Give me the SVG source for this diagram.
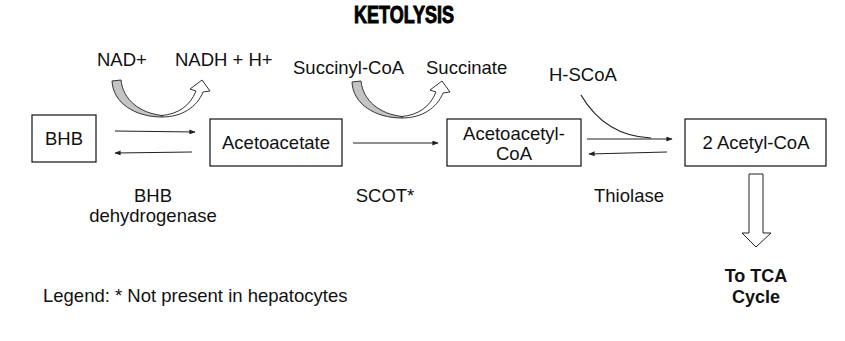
<svg xmlns="http://www.w3.org/2000/svg" width="845" height="341" viewBox="0 0 845 341">
<style>
  .t { font-family: "Liberation Sans", Arial, sans-serif; font-size: 18.5px; fill: #111; }
  .m { text-anchor: middle; }
  .b { font-weight: bold; font-size: 18px; }
  .box { fill: #fff; stroke: #111; stroke-width: 1.2; }
  .ln { fill: none; stroke: #222; stroke-width: 1.2; }
  .title { font-family: "Liberation Sans Narrow", "Liberation Sans", Arial, sans-serif; font-weight: bold; font-size: 23px; fill: #000; stroke: #000; stroke-width: 1; }
</style>
<defs>
  <marker id="ah" viewBox="0 0 10 8" refX="9" refY="4" markerWidth="7" markerHeight="5" orient="auto" markerUnits="userSpaceOnUse">
    <path d="M0,0 L10,4 L0,8 Z" fill="#222"/>
  </marker>
  <g id="curved">
    <path d="M112,81 L121,80 C123,100 140,113 162,115.5 L162,117 C135,117 113,103 112,81 Z" fill="#c4c4c4" stroke="#333" stroke-width="1"/>
    <path d="M162,117 C182,117 197,107 203,92 L210,91 L202,80 L190,89 L196,91 C190,106 178,114 162,115.5 Z" fill="#fff" stroke="#333" stroke-width="1"/>
  </g>
</defs>
<rect width="845" height="341" fill="#fff"/>

<text id="title" class="title m" x="404" y="23" textLength="100" lengthAdjust="spacingAndGlyphs">KETOLYSIS</text>

<g id="node-bhb">
  <rect class="box" x="32" y="115" width="64" height="47"/>
  <text class="t m" x="64" y="145">BHB</text>
</g>
<g id="node-acetoacetate">
  <rect class="box" x="210" y="119" width="132" height="47"/>
  <text class="t m" x="276" y="149">Acetoacetate</text>
</g>
<g id="node-acetoacetylcoa">
  <rect class="box" x="447" y="119" width="134" height="47"/>
  <text class="t m" x="514" y="140">Acetoacetyl-</text>
  <text class="t m" x="514" y="160">CoA</text>
</g>
<g id="node-acetylcoa">
  <rect class="box" x="685" y="119" width="141" height="47"/>
  <text class="t m" x="756" y="149">2 Acetyl-CoA</text>
</g>

<g id="connectors">
  <line class="ln" x1="115" y1="131" x2="195" y2="132" marker-end="url(#ah)"/>
  <line class="ln" x1="192" y1="152" x2="115" y2="153" marker-end="url(#ah)"/>
  <line class="ln" x1="353" y1="143" x2="438" y2="143" marker-end="url(#ah)"/>
  <line class="ln" x1="587" y1="139" x2="672" y2="139" marker-end="url(#ah)"/>
  <line class="ln" x1="667" y1="152" x2="589" y2="154" marker-end="url(#ah)"/>
  <path class="ln" d="M581,95 Q605,136 651,138"/>
  <use href="#curved"/>
  <use href="#curved" transform="translate(240,1)"/>
  <polygon points="749,174 763,174 763,233 771,233 756,247 742,233 749,233" fill="#fff" stroke="#222" stroke-width="1"/>
</g>

<g id="labels">
  <text class="t" x="97" y="66">NAD+</text>
  <text class="t" x="175" y="66">NADH + H+</text>
  <text class="t" x="293" y="74">Succinyl-CoA</text>
  <text class="t" x="426" y="74">Succinate</text>
  <text class="t" x="549" y="81">H-SCoA</text>
  <text class="t m" x="153" y="202">BHB</text>
  <text class="t m" x="153" y="222">dehydrogenase</text>
  <text class="t m" x="385" y="202">SCOT*</text>
  <text class="t m" x="629" y="202">Thiolase</text>
  <text class="t m b" x="756" y="282">To TCA</text>
  <text class="t m b" x="756" y="303">Cycle</text>
  <text class="t" x="43" y="302">Legend: * Not present in hepatocytes</text>
</g>
</svg>
